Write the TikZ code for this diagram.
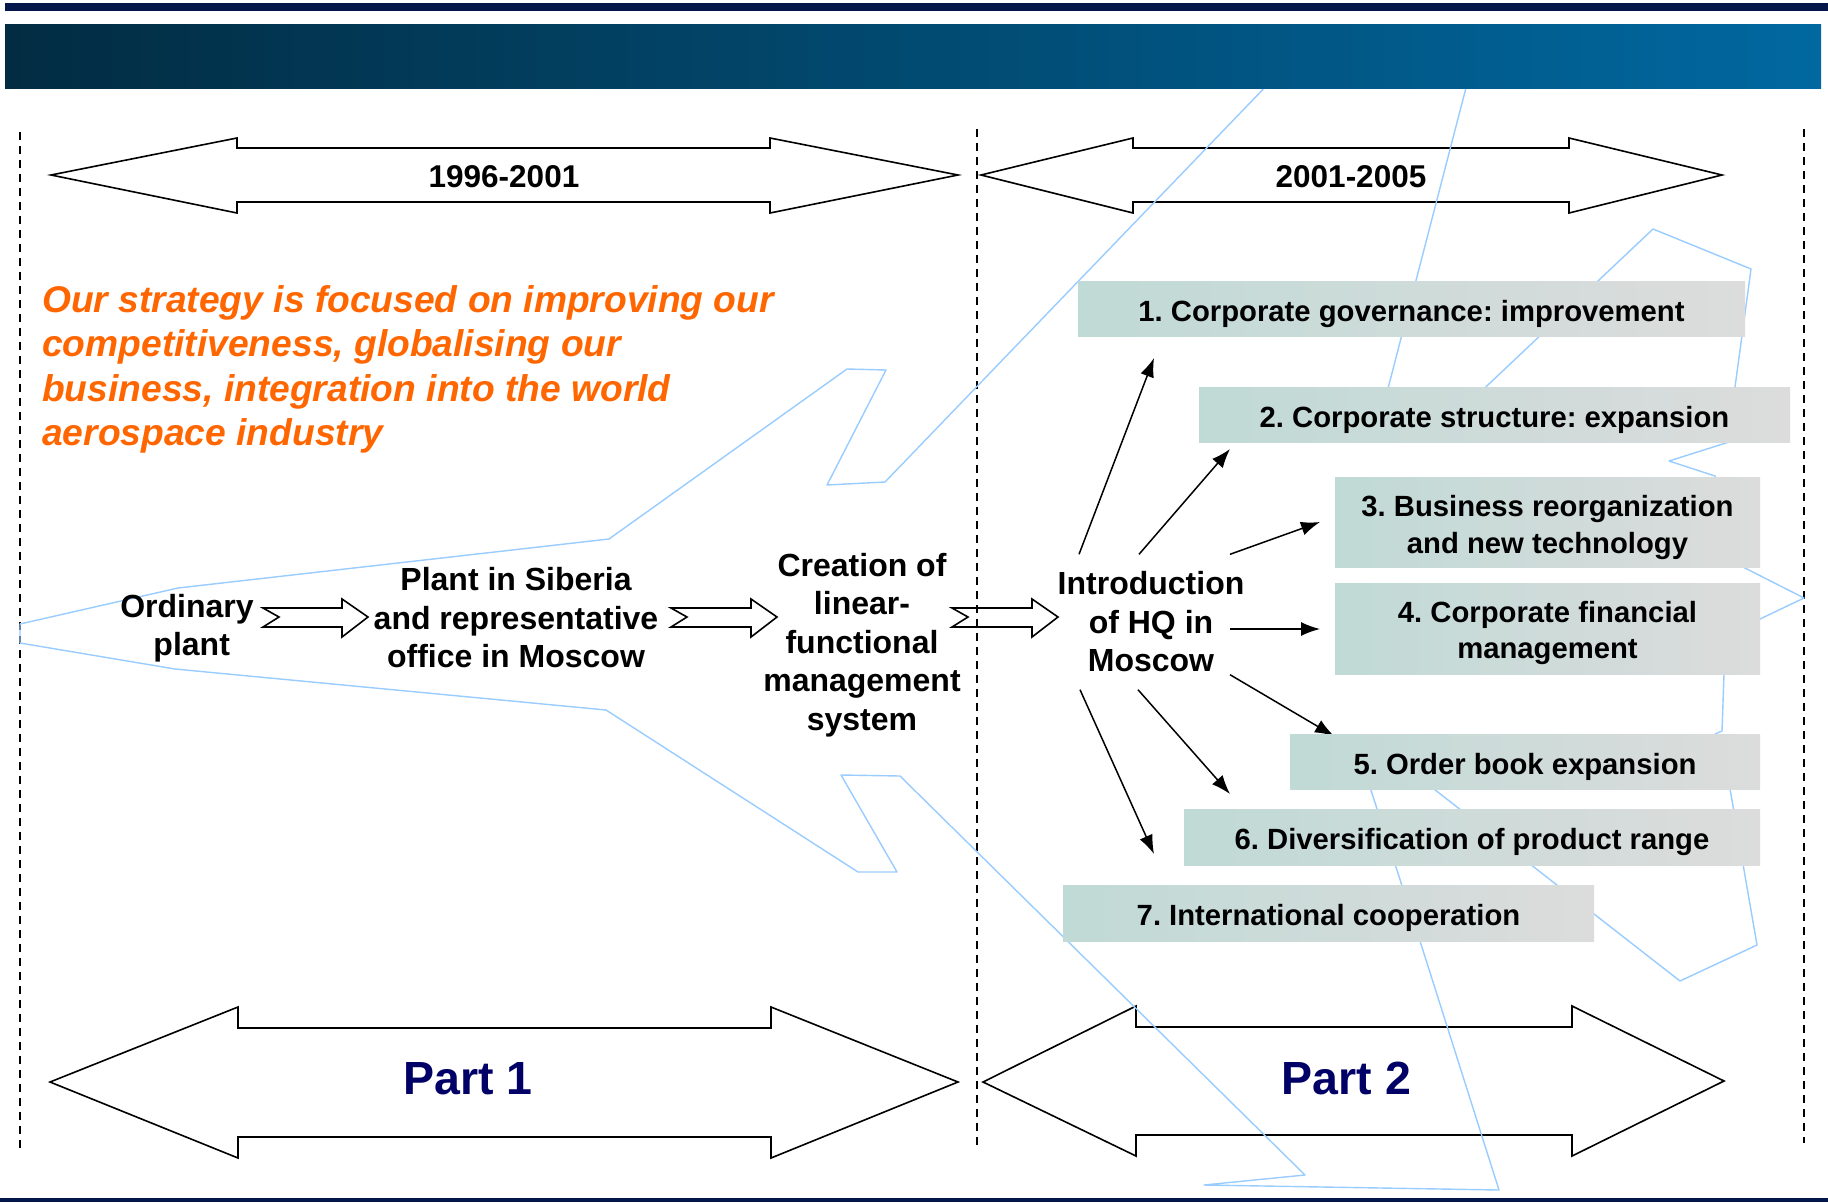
\documentclass[tikz,border=0pt]{standalone}
\usepackage{fontspec}
\setmainfont{Liberation Sans}
\usetikzlibrary{arrows.meta}
\definecolor{planeblue}{HTML}{99CCFF}
\definecolor{topbar}{HTML}{04164A}
\definecolor{barleft}{HTML}{022C42}
\definecolor{barright}{HTML}{0168A0}
\definecolor{boxleft}{HTML}{C0DAD6}
\definecolor{boxright}{HTML}{DCDCDC}
\definecolor{stratorange}{HTML}{FF6600}
\definecolor{partnavy}{HTML}{000066}
\tikzset{
  x=1pt,y=-1pt,
  bodytext/.style={font=\fontsize{32}{38.5}\selectfont\bfseries,align=center,inner sep=0pt,text=black},
  datetext/.style={font=\fontsize{31.5}{38}\selectfont\bfseries,inner sep=0pt,text=black},
  boxtext/.style={font=\fontsize{29.25}{36.5}\selectfont\bfseries,align=center,inner sep=0pt,text=black},
  itembox/.style={left color=boxleft,right color=boxright,shading angle=90,draw=none,inner sep=0pt},
  bigarrow/.style={draw=black,line width=1.6pt,line join=miter},
  smallarrow/.style={draw=black,line width=1.6pt,line join=miter},
  divider/.style={draw=black,line width=1.1pt,dash pattern=on 8pt off 6pt},
  plane/.style={draw=planeblue,line width=1.4pt,line join=round},
  spoke/.style={draw=black,line width=1.5pt,-{Latex[length=19pt,width=14pt]}},
  parttext/.style={font=\fontsize{46.5}{50}\selectfont\bfseries,text=partnavy,inner sep=0pt},
}
\begin{document}
\frenchspacing
\begin{tikzpicture}
\useasboundingbox (0,0) rectangle (1828,1202);
\fill[white] (0,0) rectangle (1828,1202);
% dividers
\draw[divider] (20,132) -- (20,1148);
\draw[divider] (977,129) -- (977,1145);
\draw[divider] (1804,129) -- (1804,1143);
% big double arrows
\draw[bigarrow] (51,175) -- (237,138) -- (237,148) -- (770,148) -- (770,138) -- (958,175) -- (770,213) -- (770,202) -- (237,202) -- (237,213) -- cycle;
\draw[bigarrow] (981,175) -- (1133,138) -- (1133,148) -- (1569,148) -- (1569,138) -- (1722,175) -- (1569,213) -- (1569,202) -- (1133,202) -- (1133,213) -- cycle;
\draw[bigarrow] (50,1082) -- (238,1007) -- (238,1028) -- (771,1028) -- (771,1007) -- (958,1082) -- (771,1158) -- (771,1137) -- (238,1137) -- (238,1158) -- cycle;
\draw[bigarrow] (983,1082) -- (1136,1006) -- (1136,1027) -- (1572,1027) -- (1572,1006) -- (1724,1081) -- (1572,1156) -- (1572,1135) -- (1136,1135) -- (1136,1156) -- cycle;
% aeroplane outline
\draw[plane] (20,624) -- (178,588) -- (609,539) -- (847,369) -- (886,370) -- (827,485) -- (885,482) -- (1272,80) -- (1468,80) -- (1385,400)
  -- (1472,400) -- (1653,229) -- (1751,269) -- (1735,387) -- (1729,442) -- (1669,461) -- (1715,476)
  -- (1743,567) -- (1804,598) -- (1760,619) -- (1724,674) -- (1722,731) -- (1715,734)
  -- (1730,789) -- (1757,945) -- (1680,981) -- (1594,914) -- (1416,775) -- (1366,775) -- (1420,941) -- (1499,1190) -- (1204,1185) -- (1305,1175)
  -- (900,776) -- (841,775) -- (897,872) -- (858,872) -- (606,710) -- (175,669) -- (20,643) -- cycle;
% header
\fill[topbar] (5,3) rectangle (1828,11);
\shade[left color=barleft,right color=barright,shading angle=90] (5,24) rectangle (1821,88.5);
\fill[topbar] (0,1198) rectangle (1828,1202);
% small block arrows
\draw[smallarrow] (263,608) -- (342,608) -- (342,599) -- (368,617) -- (342,637) -- (342,627) -- (263,627) -- (279,617) -- cycle;
\draw[smallarrow] (671,608) -- (751,608) -- (751,599) -- (777,617) -- (751,637) -- (751,627) -- (671,627) -- (687,617) -- cycle;
\draw[smallarrow] (952,608) -- (1032,608) -- (1032,599) -- (1058,617) -- (1032,637) -- (1032,627) -- (952,627) -- (968,617) -- cycle;
% texts
\node[datetext] (span1) at (504,177) {1996-2001};
\node[datetext] (span2) at (1351,177) {2001-2005};
\node[font=\fontsize{37.2}{44.5}\selectfont\bfseries\itshape,text=stratorange,align=left,anchor=north west,inner sep=0pt] (strategy) at (42,285)
  {Our strategy is focused on improving our\\competitiveness, globalising our\\business, integration into the world\\aerospace industry};
\node[bodytext] (plant) at (191.7,628) {Ordinary\kern9.4pt\relax\\plant};
\node[bodytext] (siberia) at (516,618) {Plant in Siberia\\and representative\\office in Moscow};
\node[bodytext] (creation) at (862,645) {Creation of\\linear-\\functional\\management\\system};
\node[bodytext,minimum width=158pt,minimum height=135pt] (hq) at (1151,622) {Introduction\\of HQ in\\Moscow};
\node[parttext] (part1) at (468,1079) {Part 1};
\node[parttext] (part2) at (1346.5,1078) {Part 2};
% connector ends
\coordinate (e1) at (1154,358);
\coordinate (e2) at (1230,449);
\coordinate (e3) at (1320,522);
\coordinate (e4) at (1320,629);
\coordinate (e5) at (1334,736);
\coordinate (e6) at (1230,794);
\coordinate (e7) at (1154,854);
\draw[spoke] ([xshift=-72pt]hq.north) -- (e1);
\draw[spoke] ([xshift=-12pt]hq.north) -- (e2);
\draw[spoke] ([xshift=79pt]hq.north) -- (e3);
\draw[spoke] ([xshift=79pt]hq.center |- e4) -- (e4);
\draw[spoke] ([xshift=79pt,yshift=15pt]hq.south) -- (e5);
\draw[spoke] ([xshift=-13pt]hq.south) -- (e6);
\draw[spoke] ([xshift=-71pt]hq.south) -- (e7);
% boxes
\node[itembox,minimum width=667pt,minimum height=55pt] (b1) at (1411.5,308.5) {};
\node[boxtext] (t1) at ([yshift=-5pt]b1.center) {1. Corporate governance: improvement};
\node[itembox,minimum width=591pt,minimum height=55pt] (b2) at (1494.5,414.5) {};
\node[boxtext] (t2) at ([yshift=-5pt]b2.center) {2. Corporate structure: expansion};
\node[itembox,minimum width=425pt,minimum height=90pt] (b3) at (1547.5,522) {};
\node[boxtext] (t3) at ([yshift=-5.5pt]b3.center) {3. Business reorganization\\and new technology};
\node[itembox,minimum width=425pt,minimum height=91pt] (b4) at (1547.5,628.5) {};
\node[boxtext] (t4) at ([yshift=-4.5pt]b4.center) {4. Corporate financial\\management};
\node[itembox,minimum width=470pt,minimum height=55pt] (b5) at (1525,761.5) {};
\node[boxtext] (t5) at ([yshift=-5pt]b5.center) {5. Order book expansion};
\node[itembox,minimum width=576pt,minimum height=56pt] (b6) at (1472,837) {};
\node[boxtext] (t6) at ([yshift=-5pt]b6.center) {6. Diversification of product range};
\node[itembox,minimum width=531pt,minimum height=56pt] (b7) at (1328.5,913) {};
\node[boxtext] (t7) at ([yshift=-5pt]b7.center) {7. International cooperation};
\end{tikzpicture}
\end{document}
